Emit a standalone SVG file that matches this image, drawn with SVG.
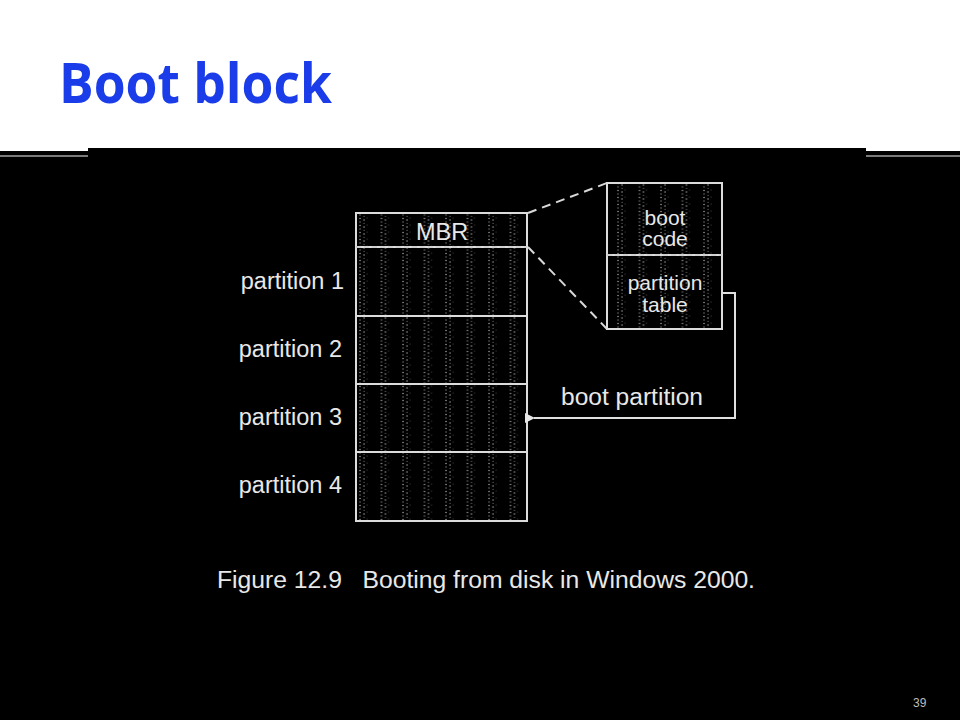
<svg xmlns="http://www.w3.org/2000/svg" width="960" height="720" viewBox="0 0 960 720">
  <style>
    .title { font-family: "Open Sans", "Lato", "Liberation Sans", sans-serif; font-weight: 700; font-size: 56px; fill: #1a3de9; }
    .lbl { font-family: "Liberation Sans", Arial, sans-serif; font-size: 23.5px; fill: #e8e8e8; }
    .box { font-family: "Liberation Sans", Arial, sans-serif; font-size: 21px; fill: #e8e8e8; }
    .cell { fill: url(#grain); stroke: #dcdcdc; stroke-width: 2; }
    .sep { stroke: #dcdcdc; stroke-width: 2; fill: none; }
    .dsep { stroke: #cfcfcf; stroke-width: 2; stroke-dasharray: 5 3; fill: none; }
    .zoom { stroke: #d8d8d8; stroke-width: 2; stroke-dasharray: 9 6; fill: none; }
    .wire { stroke: #e0e0e0; stroke-width: 2; fill: none; }
    .pg { font-family: "Liberation Sans", Arial, sans-serif; font-size: 12px; fill: #bdbdbd; }
  </style>
  <defs>
    <!-- scanned dot texture inside the disk blocks -->
    <pattern id="grain" patternUnits="userSpaceOnUse" x="358" y="0" width="21.5" height="7">
      <rect width="21.5" height="7" fill="#000000"/>
      <circle cx="2" cy="1.5" r="0.8" fill="#9a9a9a"/>
      <circle cx="2" cy="5" r="0.7" fill="#7e7e7e"/>
      <circle cx="6" cy="3" r="0.8" fill="#9a9a9a"/>
      <circle cx="6" cy="6.3" r="0.6" fill="#777"/>
      <circle cx="9" cy="1" r="0.5" fill="#5a5a5a"/>
    </pattern>
    <marker id="arrow" viewBox="0 0 10 10" refX="1" refY="5" markerWidth="5" markerHeight="5" orient="auto">
      <path d="M10,0 L0,5 L10,10 z" fill="#e6e6e6"/>
    </marker>
  </defs>

  <!-- slide background -->
  <rect x="0" y="0" width="960" height="720" fill="#ffffff"/>
  <rect x="0" y="151" width="960" height="569" fill="#000000"/>
  <rect x="0" y="155" width="960" height="2" fill="#7a7a7a"/>
  <text class="title" x="59" y="103" textLength="273" lengthAdjust="spacingAndGlyphs">Boot block</text>

  <!-- figure panel -->
  <rect x="88" y="148" width="778" height="572" fill="#000000"/>

  <g id="mbr">
    <rect class="cell" x="356" y="213" width="171" height="34"/>
    <text class="lbl" x="442" y="240" text-anchor="middle">MBR</text>
  </g>
  <g id="partition1">
    <rect class="cell" x="356" y="247" width="171" height="69"/>
    <line class="dsep" x1="356" y1="247" x2="527" y2="247"/>
    <text class="lbl" x="344" y="289" text-anchor="end">partition 1</text>
  </g>
  <g id="partition2">
    <rect class="cell" x="356" y="316" width="171" height="68"/>
    <text class="lbl" x="342" y="357" text-anchor="end">partition 2</text>
  </g>
  <g id="partition3">
    <rect class="cell" x="356" y="384" width="171" height="68"/>
    <text class="lbl" x="342" y="425" text-anchor="end">partition 3</text>
  </g>
  <g id="partition4">
    <rect class="cell" x="356" y="452" width="171" height="69"/>
    <line class="sep" x1="356" y1="521" x2="527" y2="521" stroke-width="3"/>
    <text class="lbl" x="342" y="493" text-anchor="end">partition 4</text>
  </g>

  <g id="boot-code">
    <rect class="cell" x="607" y="183" width="115" height="72"/>
    <text class="box" x="665" y="225" text-anchor="middle">boot</text>
    <text class="box" x="665" y="246" text-anchor="middle">code</text>
  </g>
  <g id="partition-table">
    <rect class="cell" x="607" y="255" width="115" height="74"/>
    <line class="dsep" x1="607" y1="255" x2="722" y2="255"/>
    <text class="box" x="665" y="290" text-anchor="middle">partition</text>
    <text class="box" x="665" y="312" text-anchor="middle">table</text>
  </g>

  <g id="connectors">
    <line class="zoom" x1="528" y1="213" x2="607" y2="183"/>
    <line class="zoom" x1="528" y1="247" x2="607" y2="329"/>
    <polyline class="wire" points="722,293 735,293 735,418 534,418" marker-end="url(#arrow)"/>
    <text class="lbl" x="561" y="405" textLength="142" lengthAdjust="spacingAndGlyphs">boot partition</text>
  </g>

  <text class="lbl" x="217" y="588" xml:space="preserve" style="white-space: pre" textLength="538" lengthAdjust="spacingAndGlyphs">Figure 12.9   Booting from disk in Windows 2000.</text>
  <text class="pg" x="913" y="707">39</text>
</svg>
